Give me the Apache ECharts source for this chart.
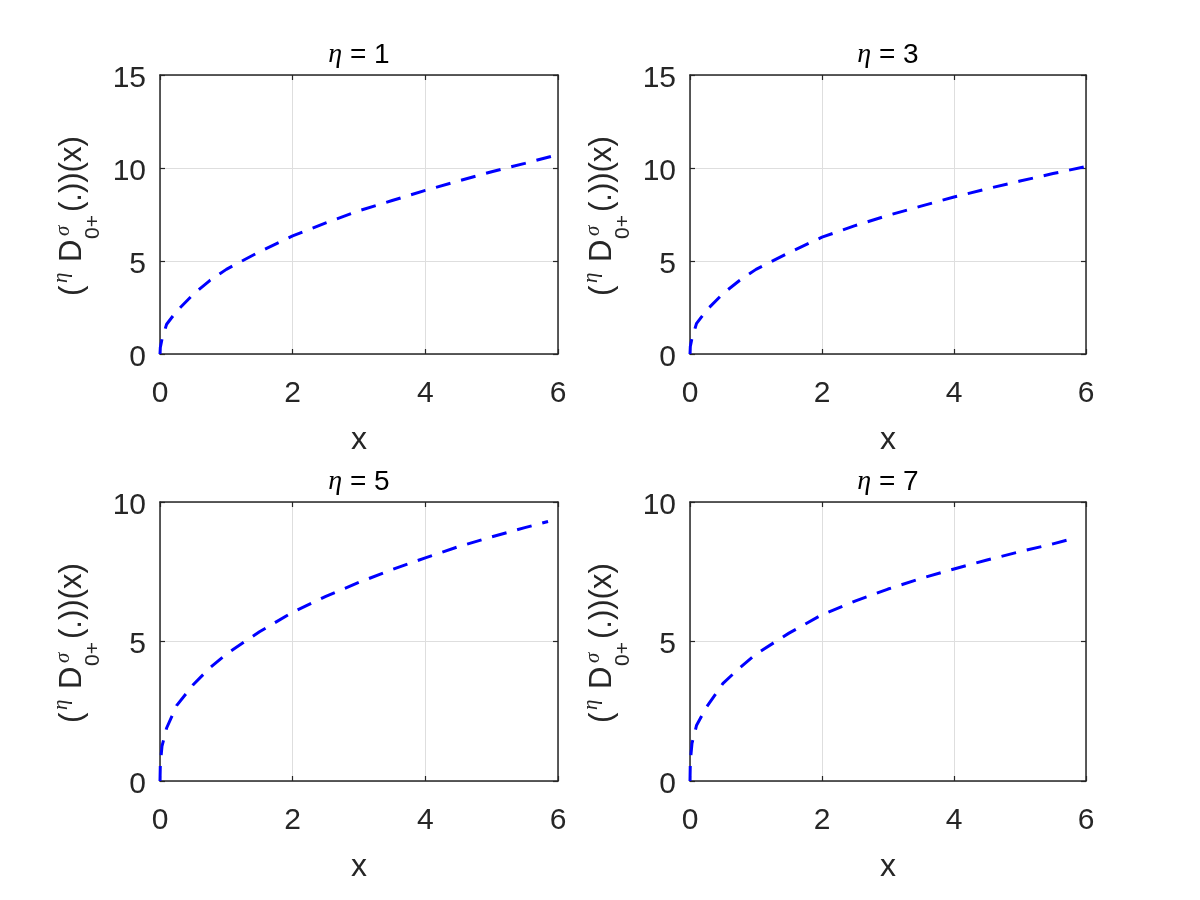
<!DOCTYPE html>
<html>
<head>
<meta charset="utf-8">
<script src="https://cdn.jsdelivr.net/npm/echarts@6/dist/echarts.min.js"></script>
<style>html,body{margin:0;padding:0;background:#fff}#c{width:1200px;height:900px}</style>
</head>
<body>
<div id="c"></div>
<script>
// ---- data ----
const etaValues = [1, 3, 5, 7];
const xTop = [0, 0.005, 0.03, 0.1, 0.25, 0.5, 0.75, 1, 1.5, 2, 2.5, 3, 3.5, 4, 4.5, 5, 5.5, 6];
const xBottom = [0, 0.005, 0.03, 0.1, 0.25, 0.5, 0.75, 1, 1.5, 2, 2.5, 3, 3.5, 4, 4.5, 5, 5.5, 5.85];
const yEta1 = [0, 0.35, 0.8, 1.6, 2.3, 3.2, 3.95, 4.55, 5.5, 6.35, 7.05, 7.7, 8.25, 8.8, 9.3, 9.8, 10.25, 10.72];
const yEta3 = [0, 0.4, 0.85, 1.65, 2.35, 3.25, 3.95, 4.55, 5.45, 6.28, 6.9, 7.45, 7.95, 8.44, 8.88, 9.3, 9.7, 10.08];
const yEta5 = [0, 0.6, 1.25, 1.9, 2.7, 3.45, 4.05, 4.55, 5.35, 6.05, 6.62, 7.12, 7.58, 8.0, 8.4, 8.75, 9.08, 9.3];
const yEta7 = [0, 0.7, 1.35, 2.0, 2.65, 3.5, 4.05, 4.55, 5.3, 5.96, 6.45, 6.88, 7.26, 7.6, 7.92, 8.22, 8.5, 8.72];
const xTicks = [0, 2, 4, 6];
const yMaxTop = 15, yMaxBottom = 10, yStep = 5, xStep = 2;

const panels = [
  {x: xTop, y: yEta1, eta: etaValues[0], ymax: yMaxTop},
  {x: xTop, y: yEta3, eta: etaValues[1], ymax: yMaxTop},
  {x: xBottom, y: yEta5, eta: etaValues[2], ymax: yMaxBottom},
  {x: xBottom, y: yEta7, eta: etaValues[3], ymax: yMaxBottom}
];

// ---- layout ----
const gridPos = [
  {left: 160, top: 75, width: 398, height: 279},
  {left: 690, top: 75, width: 396, height: 279},
  {left: 160, top: 502, width: 398, height: 279},
  {left: 690, top: 502, width: 396, height: 279}
];
const AX = '#262626';
const FONT = "'Liberation Sans', Arial, sans-serif";
const SERIF = "'Liberation Serif', 'DejaVu Serif', serif";

const grid = [], xAxis = [], yAxis = [], series = [], graphic = [];
panels.forEach((p, i) => {
  const g = gridPos[i];
  grid.push(Object.assign({containLabel: false}, g));
  const common = {min: 0, gridIndex: i};
  const line = {show: true, onZero: false, lineStyle: {color: AX, width: 1.5}};
  const tick = {show: true, inside: true, length: 5, lineStyle: {color: AX, width: 1.2}};
  xAxis.push(Object.assign({}, common, {
    type: 'value', max: 6, interval: xStep, position: 'bottom',
    axisLine: line, axisTick: tick,
    axisLabel: {show: true, margin: 25, fontSize: 30, color: AX, fontFamily: FONT,
      formatter: v => xTicks.includes(v) ? String(v) : ''},
    splitLine: {show: true, lineStyle: {color: '#dedede', width: 1}},
    name: 'x', nameLocation: 'middle', nameGap: 70,
    nameTextStyle: {fontSize: 32, color: AX, fontFamily: FONT}
  }));
  xAxis.push(Object.assign({}, common, {
    type: 'value', max: 6, interval: xStep, position: 'top',
    axisLine: line, axisTick: tick, axisLabel: {show: false}, splitLine: {show: false}
  }));
  yAxis.push(Object.assign({}, common, {
    type: 'value', max: p.ymax, interval: yStep, position: 'left',
    axisLine: line, axisTick: tick,
    axisLabel: {show: true, margin: 14, color: AX,
      formatter: v => '{a|' + v + '}',
      rich: {a: {fontSize: 30, fontFamily: FONT, color: AX, padding: [7, 0, 0, 0]}}},
    splitLine: {show: true, lineStyle: {color: '#dedede', width: 1}}
  }));
  yAxis.push(Object.assign({}, common, {
    type: 'value', max: p.ymax, interval: yStep, position: 'right',
    axisLine: line, axisTick: tick, axisLabel: {show: false}, splitLine: {show: false}
  }));
  series.push({
    type: 'line', xAxisIndex: 2 * i, yAxisIndex: 2 * i,
    data: p.x.map((xv, k) => [xv, p.y[k]]),
    showSymbol: false, symbol: 'none', smooth: false, clip: false,
    lineStyle: {color: '#0000ff', width: 3, type: [15, 11], cap: 'butt'},
    z: 5
  });
  // title  "η = n"
  graphic.push({
    type: 'text', x: g.left + g.width / 2, y: g.top - 20,
    style: {
      text: '{e|η}{n| = ' + p.eta + '}', align: 'center', verticalAlign: 'middle',
      rich: {
        e: {fontSize: 28, fontStyle: 'italic', fontFamily: SERIF, fill: '#000'},
        n: {fontSize: 28, fontFamily: FONT, fill: '#000'}
      }
    }
  });
  // y axis label: ( ^η D^σ_{0+} (.))(x)
  const ox = 83 + (g.left - 160);
  const oy = 296 + (g.top + g.height / 2 - 214.5);
  const txt = (text, x, y, font) => ({type: 'text', x: x, y: y,
    style: {text: text, font: font, fill: AX, align: 'left', verticalAlign: 'middle'}});
  graphic.push({
    type: 'group', x: ox, y: oy, rotation: Math.PI / 2,
    children: [
      txt('(', 0, -10.5, '31px ' + FONT),
      txt('η', 13, -22, 'italic 21px ' + SERIF),
      txt('D', 34, -10.5, '31px ' + FONT),
      txt('σ', 60, -20, 'italic 21px ' + SERIF),
      txt('0+', 57, 10, '21px ' + FONT),
      txt('(.))(x)', 84, -10.5, '31px ' + FONT)
    ]
  });
});

const chart = echarts.init(document.getElementById('c'), null, {renderer: 'canvas'});
chart.setOption({
  backgroundColor: '#fff', animation: false,
  grid, xAxis, yAxis, series, graphic
});
</script>
</body>
</html>
